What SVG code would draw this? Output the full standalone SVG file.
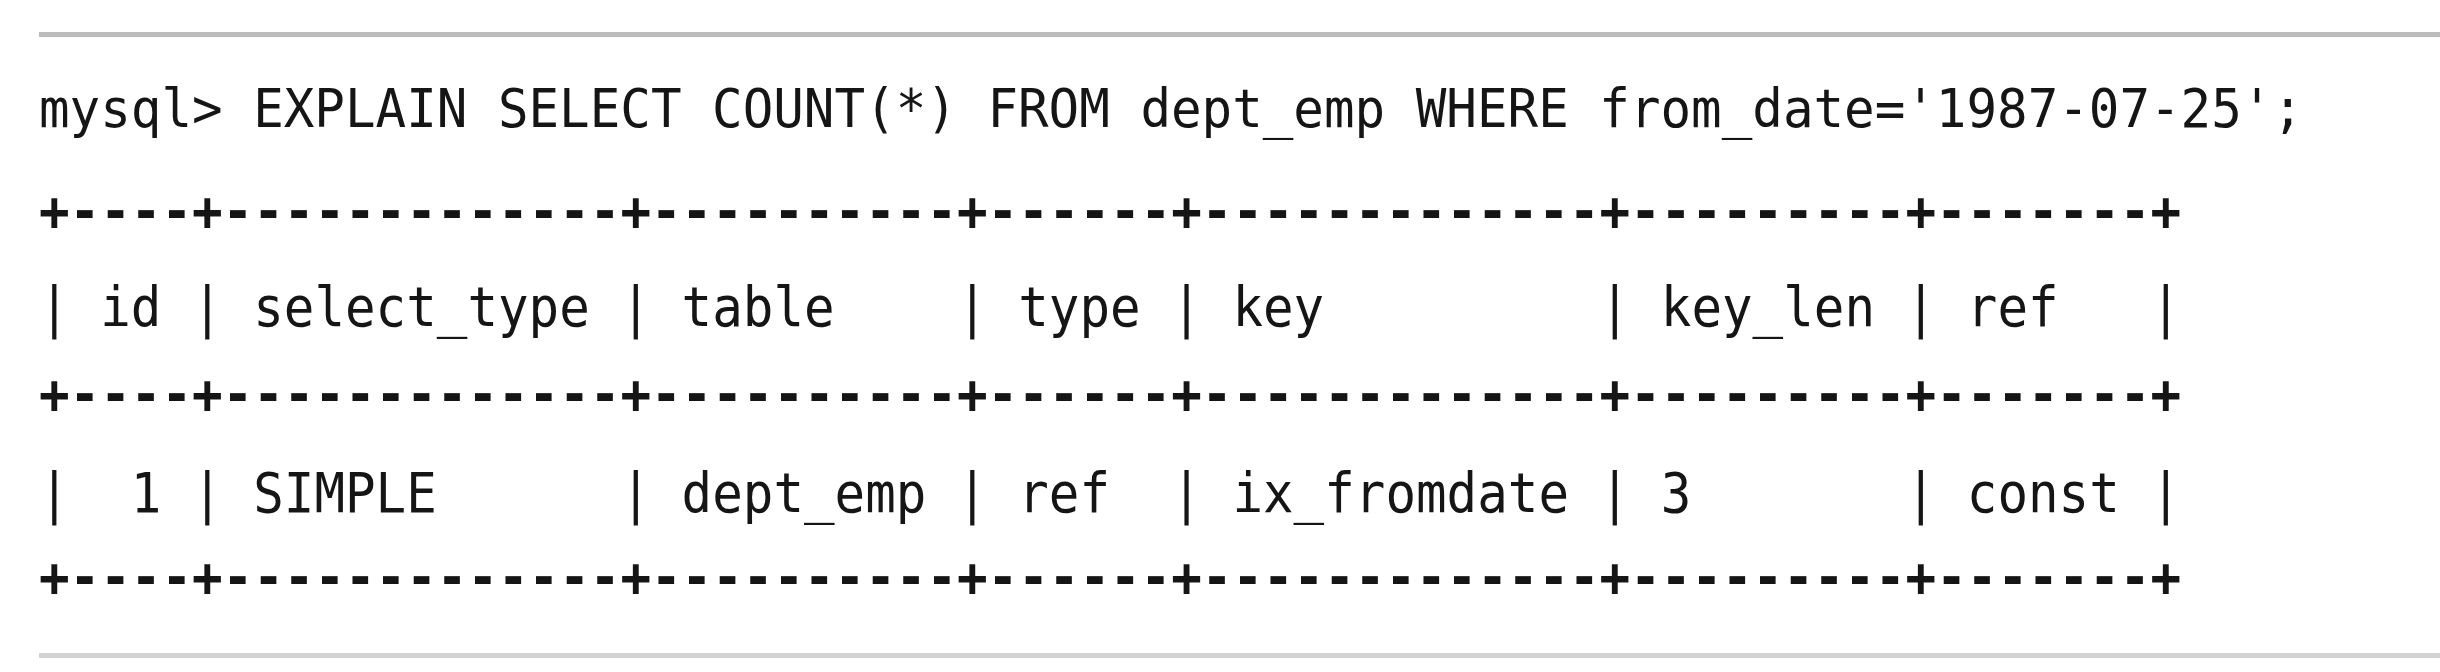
<svg xmlns="http://www.w3.org/2000/svg" width="2440" height="672" viewBox="0 0 2440 672">
<style>
.t{font-family:"DejaVu Sans Mono","Liberation Mono",monospace;font-size:56px;fill:#151515;white-space:pre}
.q{font-size:53.5px}
.b{font-weight:bold}
.rule{stroke-width:5;fill:none}
</style>
<rect x="0" y="0" width="2440" height="672" fill="#ffffff"/>
<line class="rule" x1="39" y1="34.5" x2="2440" y2="34.5" stroke="#bcbcbc"/>
<line class="rule" x1="39" y1="655.5" x2="2440" y2="655.5" stroke="#d2d2d2"/>
<g id="query">
<text class="t q" xml:space="preserve" x="39" y="127" textLength="2264" lengthAdjust="spacingAndGlyphs">mysql&gt; EXPLAIN SELECT COUNT(*) FROM dept_emp WHERE from_date='1987-07-25';</text>
</g>
<g id="result-table">
<text class="t b" xml:space="preserve" x="39" y="230" textLength="2142" lengthAdjust="spacingAndGlyphs">+----+-------------+----------+------+-------------+---------+-------+</text>
<text class="t" xml:space="preserve" x="39" y="326" textLength="2142" lengthAdjust="spacingAndGlyphs">| id | select_type | table    | type | key         | key_len | ref   |</text>
<text class="t b" xml:space="preserve" x="39" y="413" textLength="2142" lengthAdjust="spacingAndGlyphs">+----+-------------+----------+------+-------------+---------+-------+</text>
<text class="t" xml:space="preserve" x="39" y="512" textLength="2142" lengthAdjust="spacingAndGlyphs">|  1 | SIMPLE      | dept_emp | ref  | ix_fromdate | 3       | const |</text>
<text class="t b" xml:space="preserve" x="39" y="596" textLength="2142" lengthAdjust="spacingAndGlyphs">+----+-------------+----------+------+-------------+---------+-------+</text>
</g>
</svg>
